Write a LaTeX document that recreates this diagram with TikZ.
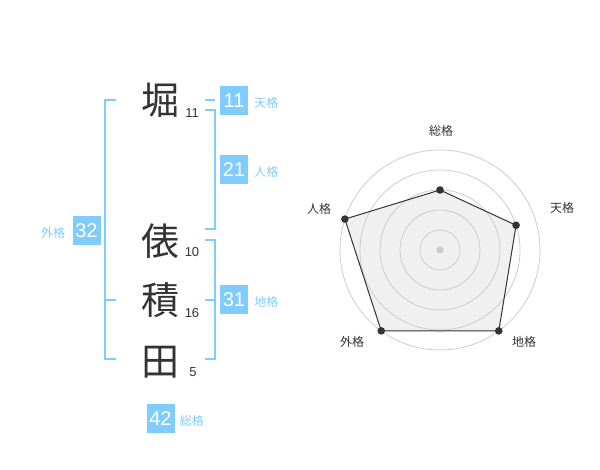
\documentclass[tikz,border=0pt]{standalone}
\usepackage{fontspec}
\setmainfont{Liberation Sans}
\newfontfamily\jpfont{Noto Sans CJK JP}
\usetikzlibrary{positioning}
\definecolor{skyblue}{HTML}{80CCFF}
\definecolor{inkgray}{HTML}{333333}
\definecolor{ringgray}{HTML}{CCCCCC}
\definecolor{fillgray}{HTML}{F0F0F0}
\tikzset{>=latex}
\tikzset{
  kanji/.style={font=\jpfont\fontsize{38}{38}\selectfont, text=inkgray, inner sep=0pt},
  strokes/.style={font=\fontsize{13}{13}\selectfont, text=inkgray, inner sep=0pt},
  valbox/.style={fill=skyblue, text=white, minimum width=28pt, minimum height=29pt, inner sep=0pt, font=\fontsize{20}{20}\selectfont},
  kaku/.style={font=\jpfont\fontsize{12}{12}\selectfont, text=skyblue, inner sep=0pt},
  brk/.style={draw=skyblue, line width=2pt},
  ring/.style={draw=ringgray, line width=0.8pt},
  axislabel/.style={font=\jpfont\fontsize{12}{12}\selectfont, text=inkgray, inner sep=0pt}
}
\begin{document}
\begin{tikzpicture}[x=1pt,y=-1pt]
\useasboundingbox (0,0) rectangle (600,470);

% name
\node[kanji] (k1) at (160,100) {堀};
\node[kanji] (k2) at (160,241) {俵};
\node[kanji] (k3) at (160,300) {積};
\node[kanji] (k4) at (160,362) {田};

\node[strokes] (s1) at (192,113) {11};
\node[strokes] (s2) at (192,252) {10};
\node[strokes] (s3) at (192,313) {16};
\node[strokes] (s4) at (193,372) {5};

% brackets
\coordinate (gtop) at (116,100);
\coordinate (gmid) at (116,300);
\coordinate (gbot) at (116,359);
\draw[brk] (gtop) -- (105,100) -- (105,359) -- (gbot);
\draw[brk] (gmid) -- (105,300);

\coordinate (tena) at (205,100);
\coordinate (tenb) at (215,100);
\draw[brk] (tena) -- (tenb);

\coordinate (jintop) at (205,110);
\coordinate (jinbot) at (205,229);
\draw[brk] (jintop) -- (215,110) -- (215,229) -- (jinbot);

\coordinate (chitop) at (205,240);
\coordinate (chimid) at (205,300);
\coordinate (chibot) at (205,359);
\draw[brk] (chitop) -- (215,240) -- (215,359) -- (chibot);
\draw[brk] (chimid) -- (215,300);

% values
\node[valbox] (vten) at (234,100.5) {11};
\node[valbox] (vjin) at (234,170) {21};
\node[valbox] (vchi) at (234,300) {31};
\node[valbox] (vgai) at (86.5,230.5) {32};
\node[valbox] (vtot) at (160.5,418.5) {42};

\node[kaku, anchor=base west] (lten) at ([xshift=6pt]vten.base east) {天格};
\node[kaku, anchor=base west] (ljin) at ([xshift=6pt]vjin.base east) {人格};
\node[kaku, anchor=base west] (lchi) at ([xshift=6pt]vchi.base east) {地格};
\node[kaku, anchor=base east] (lgai) at ([xshift=-7pt]vgai.base west) {外格};
\node[kaku, anchor=base west] (ltot) at ([xshift=5pt]vtot.base east) {総格};

% radar
\begin{scope}[shift={(440,250)}, y=1pt]
\coordinate (ptot) at (90:60);
\coordinate (pten) at (18:80);
\coordinate (pchi) at (-54:100);
\coordinate (pgai) at (-126:100);
\coordinate (pjin) at (162:100);

\fill[fillgray] (ptot) -- (pten) -- (pchi) -- (pgai) -- (pjin) -- cycle;
\foreach \r in {20,40,...,100}
  \draw[ring] (0,0) circle (\r);
\fill[ringgray] (0,0) circle (3.5);

\draw[inkgray, line width=1pt]
  (ptot) -- (pten) -- (pchi) -- (pgai) -- (pjin) -- cycle;
\foreach \p in {ptot,pten,pchi,pgai,pjin}
  \fill[inkgray] (\p) circle (3.8);

\node[axislabel] (atot) at (1,119) {総格};
\node[axislabel] (aten) at (122,42) {天格};
\node[axislabel] (achi) at (84,-92) {地格};
\node[axislabel] (agai) at (-88,-92) {外格};
\node[axislabel] (ajin) at (-121,41) {人格};
\end{scope}

\end{tikzpicture}
\end{document}
